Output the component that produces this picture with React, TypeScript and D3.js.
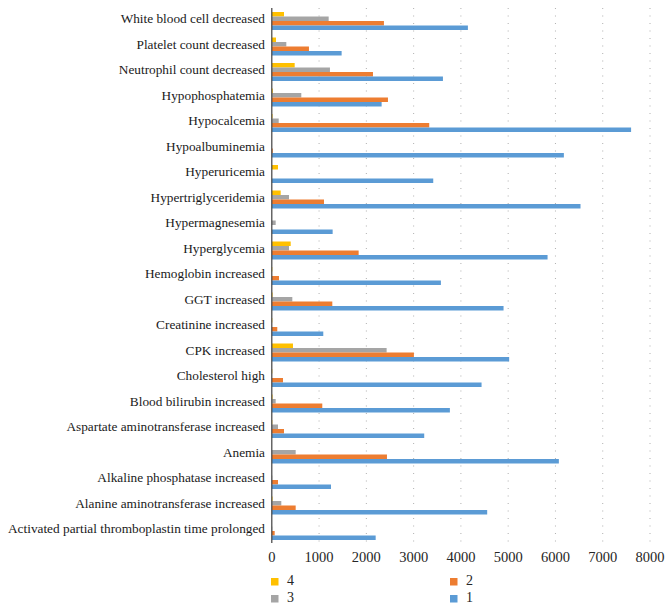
import React from "react";
import * as d3 from "d3";

const categories = [
  "White blood cell decreased",
  "Platelet count decreased",
  "Neutrophil count decreased",
  "Hypophosphatemia",
  "Hypocalcemia",
  "Hypoalbuminemia",
  "Hyperuricemia",
  "Hypertriglyceridemia",
  "Hypermagnesemia",
  "Hyperglycemia",
  "Hemoglobin increased",
  "GGT increased",
  "Creatinine increased",
  "CPK increased",
  "Cholesterol high",
  "Blood bilirubin increased",
  "Aspartate aminotransferase increased",
  "Anemia",
  "Alkaline phosphatase increased",
  "Alanine aminotransferase increased",
  "Activated partial thromboplastin time prolonged",
];

const grade1 = [4148, 1477, 3620, 2323, 7600, 6178, 3415, 6530, 1287, 5833, 3577, 4902, 1089, 5021, 4437, 3767, 3224, 6072, 1252, 4556, 2197];
const grade2 = [2372, 786, 2140, 2457, 3330, 20, 0, 1104, 0, 1837, 152, 1280, 116, 3006, 237, 1068, 258, 2436, 131, 505, 61];
const grade3 = [1203, 307, 1230, 624, 146, 0, 0, 364, 82, 364, 0, 434, 0, 2429, 0, 82, 131, 505, 10, 201, 10];
const grade4 = [258, 89, 484, 20, 15, 0, 131, 188, 0, 400, 10, 15, 10, 448, 10, 15, 10, 0, 0, 15, 0];

const xTicks = [0, 1000, 2000, 3000, 4000, 5000, 6000, 7000, 8000];

const seriesKeys = ["4", "3", "2", "1"];
const seriesValues: Record<string, number[]> = { "1": grade1, "2": grade2, "3": grade3, "4": grade4 };
const seriesColors: Record<string, string> = { "1": "#5B9BD5", "2": "#ED7D31", "3": "#A5A5A5", "4": "#FFC000" };
const legendOrder = ["4", "2", "3", "1"];

export default function App() {
  const W = 668;
  const H = 611;
  const x = d3.scaleLinear().domain([0, 8000]).range([271.8, 650]);
  const y = d3.scaleBand<string>().domain(categories).range([8.25, 543.75]).paddingInner(0.294).paddingOuter(0.147);
  const ys = d3.scaleBand<string>().domain(seriesKeys).range([0, y.bandwidth()]);
  const font = "'Liberation Serif', 'Times New Roman', serif";
  const [yTop, yBot] = [8, 543];

  return (
    <svg width={W} height={H} style={{ position: "absolute", left: 0, top: 0, background: "#fff" }} fontFamily={font}>
      {xTicks.slice(1).map((t) => (
        <line key={t} x1={x(t)} x2={x(t)} y1={yTop} y2={yBot} stroke="#b0b0b0" strokeWidth={1} strokeDasharray="1,6.5" />
      ))}
      {categories.map((c, i) => (
        <g key={c} transform={`translate(0,${y(c)})`}>
          {seriesKeys.map((k) => {
            const v = seriesValues[k][i];
            if (!v) return null;
            return (
              <rect key={k} x={x(0)} y={ys(k)} width={x(v) - x(0)} height={ys.bandwidth()} fill={seriesColors[k]} />
            );
          })}
          <text x={265} y={y.bandwidth() / 2 - 1} textAnchor="end" dominantBaseline="middle" fontSize={13.3} fill="#1a1a1a">
            {c}
          </text>
        </g>
      ))}
      <line x1={x(0)} x2={x(0)} y1={yTop} y2={yBot} stroke="#404040" strokeWidth={1.2} />
      {xTicks.map((t) => (
        <text key={t} x={x(t)} y={562} textAnchor="middle" fontSize={14.5} fill="#262626">
          {t}
        </text>
      ))}
      {legendOrder.map((k, i) => {
        const col = i % 2;
        const row = i < 2 ? 0 : 1;
        const lx = col === 0 ? 271 : 450;
        const ly = row === 0 ? 578 : 595;
        return (
          <g key={k}>
            <rect x={lx} y={ly} width={7.5} height={7.5} fill={seriesColors[k]} />
            <text x={lx + 16} y={ly + 4} dominantBaseline="middle" fontSize={14} fill="#262626">
              {k}
            </text>
          </g>
        );
      })}
    </svg>
  );
}
